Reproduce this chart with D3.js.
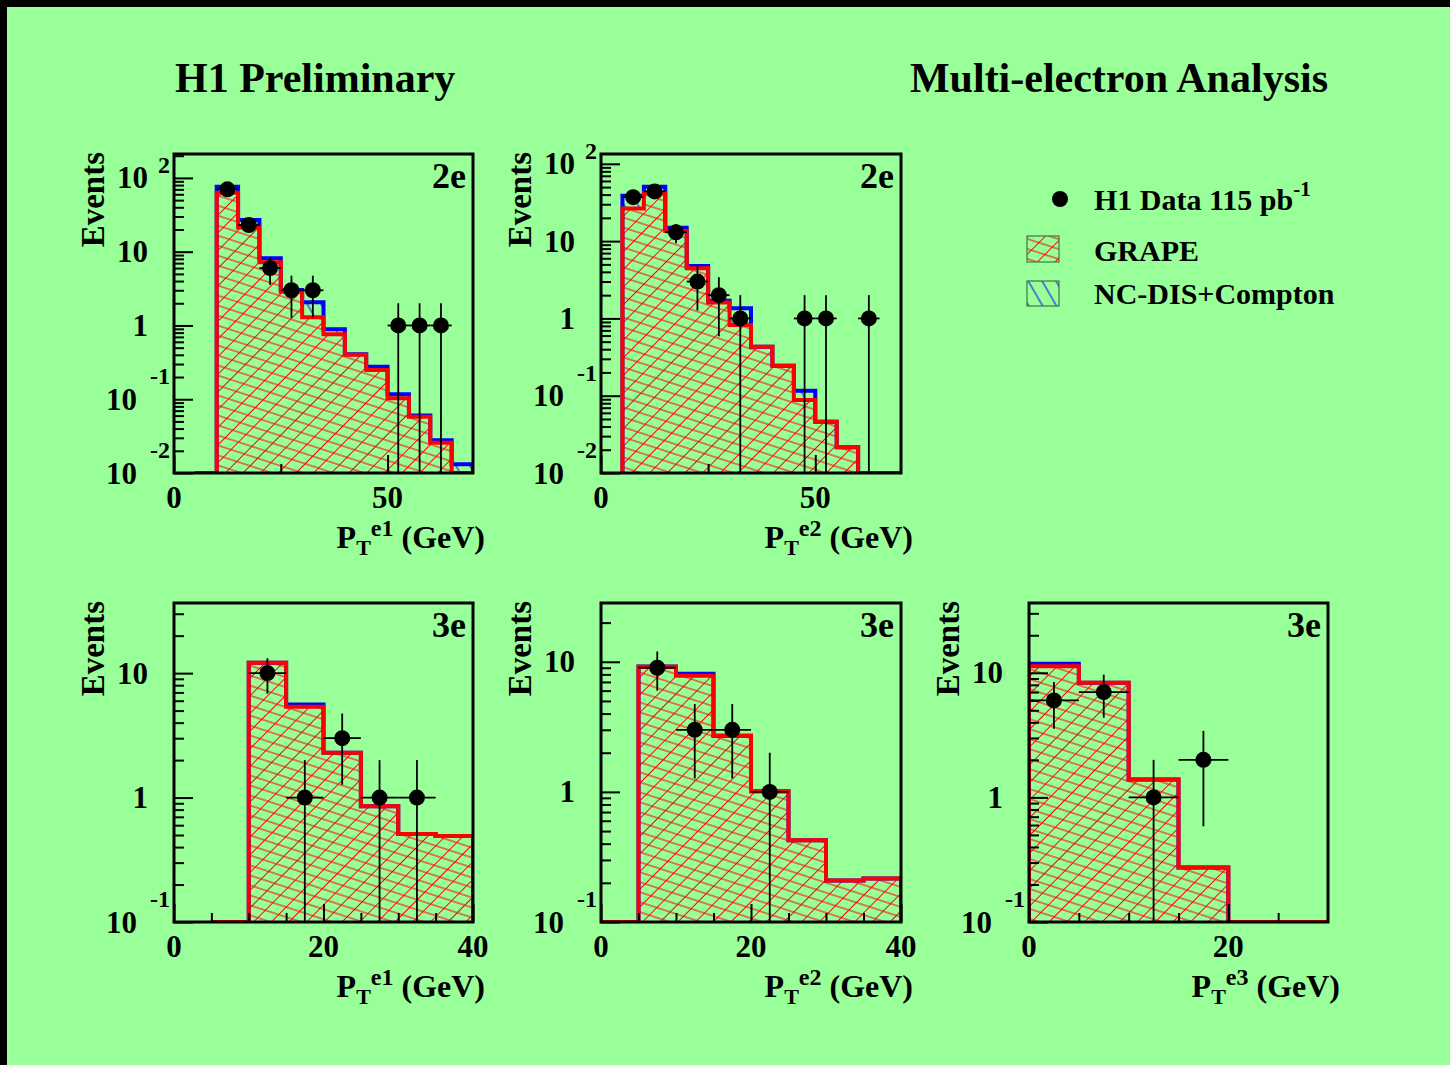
<!DOCTYPE html>
<html><head><meta charset="utf-8">
<script src="https://cdn.jsdelivr.net/npm/d3@7"></script>
<style>
html,body{margin:0;padding:0;background:#99ff99;}
svg{display:block;}
text{font-family:"Liberation Serif","Times New Roman",serif;font-weight:bold;fill:#000;}
</style></head><body>
<svg id="c" width="1450" height="1065"></svg>
<script>
// ---------- DATA ----------
// 2e, PT e1
const p1Edges = [5,10,15,20,25,30,35,40,45,50,55,60,65,70];
const p1Grape = [0,63,21.2,7.2,2.87,1.29,0.76,0.40,0.249,0.103,0.058,0.0258,0];
const p1Total = [0,76,26.9,8.15,3.03,2.06,0.89,0.406,0.276,0.117,0.060,0.0277,0.0131];
const p1DataX = [12.5,17.5,22.5,27.5,32.5,52.5,57.5,62.5];
const p1DataN = [70,23,6,3,3,1,1,1];
// 2e, PT e2
const p2Edges = [5,10,15,20,25,30,35,40,45,50,55,60,65,70];
const p2Grape = [26.5,41.5,13.5,4.45,1.61,0.82,0.43,0.244,0.088,0.046,0.0215,0,0];
const p2Total = [38.7,50.6,14.9,4.76,1.69,1.35,0.43,0.244,0.116,0.046,0.0215,0,0];
const p2DataX = [7.5,12.5,17.5,22.5,27.5,32.5,47.5,52.5,62.5];
const p2DataN = [37,44,13,3,2,1,1,1,1];
// 3e, PT e1
const p4Edges = [5,10,15,20,25,30,35,40];
const p4Grape = [0,12.1,5.37,2.29,0.85,0.51,0.49];
const p4Total = [0,12.1,5.6,2.29,0.85,0.51,0.49];
const p4DataX = [12.5,17.5,22.5,27.5,32.5];
const p4DataN = [10,1,3,1,1];
// 3e, PT e2
const p5Edges = [0,5,10,15,20,25,30,35,40];
const p5Grape = [0,9.16,7.8,2.7,1.01,0.425,0.208,0.216];
const p5Total = [0,9.2,8.09,2.7,1.01,0.425,0.208,0.216];
const p5DataX = [7.5,12.5,17.5,22.5];
const p5DataN = [9,3,3,1];
// 3e, PT e3
const p6Edges = [0,5,10,15,20,25,30];
const p6Grape = [11.3,8.3,1.39,0.274,0,0];
const p6Total = [11.8,8.3,1.39,0.274,0,0];
const p6DataX = [2.5,7.5,12.5,17.5];
const p6DataN = [6,7,1,2];

const titleLeft = "H1 Preliminary";
const titleRight = "Multi-electron Analysis";
const legendData = "H1 Data 115 pb";
const legendGrape = "GRAPE";
const legendNC = "NC-DIS+Compton";

// ---------- LAYOUT ----------
const W=1450,H=1065;
const svg=d3.select("#c");
svg.append("rect").attr("width",W).attr("height",H).attr("fill","#99ff99");
svg.append("rect").attr("x",0).attr("y",0).attr("width",W).attr("height",7).attr("fill","#000");
svg.append("rect").attr("x",0).attr("y",0).attr("width",7).attr("height",H).attr("fill","#000");

const defs=svg.append("defs");
function hatch(id,size,angle,color,w){
  const p=defs.append("pattern").attr("id",id).attr("patternUnits","userSpaceOnUse")
    .attr("width",size).attr("height",size).attr("patternTransform",`rotate(${angle})`);
  p.append("line").attr("x1",0).attr("x2",size).attr("y1",size/2).attr("y2",size/2)
    .attr("stroke",color).attr("stroke-width",w);
}
hatch("hA",12.5,-45,"#ff0000",1);
hatch("hB",9.5,18,"#ff0000",1);
hatch("hBlue",12,60,"#0000ff",1);

const panels=[
 {x0:174,x1:473,y0:154,y1:473,xd:[0,70],yd:[0.01,211],xMaj:[0,50],xMin:[25],xLab:[0,50],tag:"2e",sup:"e1",edges:p1Edges,grape:p1Grape,total:p1Total,dx:p1DataX,dn:p1DataN},
 {x0:601,x1:901,y0:154,y1:473,xd:[0,70],yd:[0.01,134],xMaj:[0,50],xMin:[25],xLab:[0,50],tag:"2e",sup:"e2",edges:p2Edges,grape:p2Grape,total:p2Total,dx:p2DataX,dn:p2DataN},
 {x0:174,x1:473,y0:603,y1:922,xd:[0,40],yd:[0.1,36.6],xMaj:[0,20,40],xMin:[5,10,15,25,30,35],xLab:[0,20,40],tag:"3e",sup:"e1",edges:p4Edges,grape:p4Grape,total:p4Total,dx:p4DataX,dn:p4DataN},
 {x0:601,x1:901,y0:603,y1:922,xd:[0,40],yd:[0.1,28.3],xMaj:[0,20,40],xMin:[5,10,15,25,30,35],xLab:[0,20,40],tag:"3e",sup:"e2",edges:p5Edges,grape:p5Grape,total:p5Total,dx:p5DataX,dn:p5DataN},
 {x0:1029,x1:1328,y0:603,y1:922,xd:[0,30],yd:[0.1,36.3],xMaj:[0,20],xMin:[5,10,15,25],xLab:[0,20],tag:"3e",sup:"e3",edges:p6Edges,grape:p6Grape,total:p6Total,dx:p6DataX,dn:p6DataN}
];

panels.forEach((p,pi)=>{
  const x=d3.scaleLinear().domain(p.xd).range([p.x0,p.x1]);
  const y=d3.scaleLog().domain(p.yd).range([p.y1,p.y0]).clamp(true);
  const yv=v=> v<=p.yd[0] ? p.y1 : y(v);
  const g=svg.append("g");
  const cid="clip"+pi;
  defs.append("clipPath").attr("id",cid).append("rect")
    .attr("x",p.x0).attr("y",p.y0).attr("width",p.x1-p.x0).attr("height",p.y1-p.y0);

  function pts(vals){
    const a=[[x(p.edges[0]),p.y1]];
    vals.forEach((v,i)=>{a.push([x(p.edges[i]),yv(v)]);a.push([x(p.edges[i+1]),yv(v)]);});
    a.push([x(p.edges[p.edges.length-1]),p.y1]);
    return a;
  }
  const line=d3.line();
  const hg=g.append("g").attr("clip-path",`url(#${cid})`);
  // total (NC-DIS + Compton stacked)
  hg.append("path").attr("d",line(pts(p.total))+"Z").attr("fill","url(#hBlue)");
  // GRAPE
  hg.append("path").attr("d",line(pts(p.grape))+"Z").attr("fill","#99ff99");
  hg.append("path").attr("d",line(pts(p.grape))+"Z").attr("fill","url(#hA)");
  hg.append("path").attr("d",line(pts(p.grape))+"Z").attr("fill","url(#hB)");
  hg.append("path").attr("d",line(pts(p.total))).attr("fill","none").attr("stroke","#0000ff").attr("stroke-width",4);
  hg.append("path").attr("d",line(pts(p.grape))).attr("fill","none").attr("stroke","#ff0000").attr("stroke-width",4);

  // y ticks
  const lo=Math.floor(Math.log10(p.yd[0])), hi=Math.ceil(Math.log10(p.yd[1]));
  const maj=[],mnr=[];
  for(let e=lo;e<=hi;e++){
    for(let m=1;m<=9;m++){
      const v=m*Math.pow(10,e);
      if(v>=p.yd[0]*0.999 && v<=p.yd[1]*1.001){ (m===1?maj:mnr).push(v); }
    }
  }
  const ax1=g.append("g").attr("transform",`translate(${p.x0},0)`)
    .call(d3.axisRight(y).tickValues(mnr).tickSize(10).tickFormat(""));
  const ax2=g.append("g").attr("transform",`translate(${p.x0},0)`)
    .call(d3.axisRight(y).tickValues(maj).tickSize(19).tickFormat(""));
  const ax3=g.append("g").attr("transform",`translate(0,${p.y1})`)
    .call(d3.axisTop(x).tickValues(p.xMin).tickSize(9).tickFormat(""));
  const ax4=g.append("g").attr("transform",`translate(0,${p.y1})`)
    .call(d3.axisTop(x).tickValues(p.xMaj).tickSize(18).tickFormat(""));
  [ax1,ax2,ax3,ax4].forEach(a=>{a.select(".domain").remove();a.selectAll("line").attr("stroke","#000").attr("stroke-width",2);});

  // y labels
  maj.forEach(v=>{
    const e=Math.round(Math.log10(v)); const ty=y(v);
    if(e===0||e===1){
      g.append("text").attr("x",p.x0-26).attr("y",ty+10.5).attr("text-anchor","end").attr("font-size",31).text(e===0?"1":"10");
    } else if(e>=2){
      g.append("text").attr("x",p.x0-26).attr("y",ty+10.5).attr("text-anchor","end").attr("font-size",31).text("10");
      g.append("text").attr("x",p.x0-4).attr("y",ty-5).attr("text-anchor","end").attr("font-size",24).text(String(e));
    } else {
      g.append("text").attr("x",p.x0-37).attr("y",ty+10.5).attr("text-anchor","end").attr("font-size",31).text("10");
      g.append("text").attr("x",p.x0-4).attr("y",ty-15).attr("text-anchor","end").attr("font-size",24).text(String(e));
    }
  });
  // x labels
  p.xLab.forEach(v=>{
    g.append("text").attr("x",x(v)).attr("y",p.y1+35).attr("text-anchor","middle").attr("font-size",31).text(String(v));
  });
  // axis titles
  g.append("text").attr("transform",`translate(${p.x0-70},${p.y0-2}) rotate(-90)`).attr("text-anchor","end").attr("font-size",33).text("Events");
  const xt=g.append("text").attr("x",p.x1+12).attr("y",p.y1+75).attr("text-anchor","end").attr("font-size",32);
  xt.append("tspan").text("P");
  xt.append("tspan").attr("font-size",22).attr("dy",7).text("T");
  xt.append("tspan").attr("font-size",24).attr("dy",-19).text(p.sup);
  xt.append("tspan").attr("dy",12).text(" (GeV)");
  // tag
  g.append("text").attr("x",p.x1-7).attr("y",p.y0+34).attr("text-anchor","end").attr("font-size",36).text(p.tag);

  // frame
  g.append("rect").attr("x",p.x0).attr("y",p.y0).attr("width",p.x1-p.x0).attr("height",p.y1-p.y0)
    .attr("fill","none").attr("stroke","#000").attr("stroke-width",3);

  // data points
  const bw=p.edges[1]-p.edges[0];
  p.dx.forEach((cx,i)=>{
    const n=p.dn[i], s=Math.sqrt(n);
    const px=x(cx), py=y(n);
    g.append("line").attr("x1",px).attr("x2",px).attr("y1",y(n+s)).attr("y2",yv(n-s)).attr("stroke","#000").attr("stroke-width",1.8);
    g.append("line").attr("x1",x(cx-bw/2)).attr("x2",x(cx+bw/2)).attr("y1",py).attr("y2",py).attr("stroke","#000").attr("stroke-width",1.8);
    g.append("circle").attr("cx",px).attr("cy",py).attr("r",8).attr("fill","#000");
  });
});

// titles
svg.append("text").attr("x",175).attr("y",92).attr("font-size",42).text(titleLeft);
svg.append("text").attr("x",1328).attr("y",92).attr("text-anchor","end").attr("font-size",42).text(titleRight);

// legend
const lg=svg.append("g");
lg.append("circle").attr("cx",1060).attr("cy",199).attr("r",8).attr("fill","#000");
const t1=lg.append("text").attr("x",1094).attr("y",210).attr("font-size",30);
t1.append("tspan").text(legendData);
t1.append("tspan").attr("font-size",21).attr("dy",-14).text("-1");
lg.append("rect").attr("x",1027).attr("y",236).attr("width",32).attr("height",26).attr("fill","url(#hA)");
lg.append("rect").attr("x",1027).attr("y",236).attr("width",32).attr("height",26).attr("fill","url(#hB)").attr("stroke","#447744").attr("stroke-width",1.2);
lg.append("text").attr("x",1094).attr("y",261).attr("font-size",30).text(legendGrape);
lg.append("rect").attr("x",1027).attr("y",281).attr("width",32).attr("height",25).attr("fill","url(#hBlue)").attr("stroke","#447744").attr("stroke-width",1.2);
lg.append("text").attr("x",1094).attr("y",304).attr("font-size",30).text(legendNC);
</script>
</body></html>
